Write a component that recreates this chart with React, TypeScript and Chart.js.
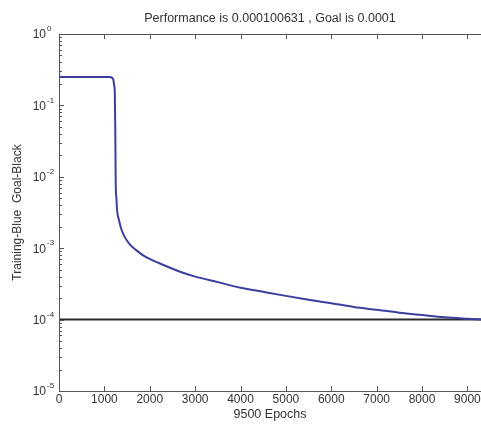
import React, { useEffect, useRef } from "react";
import { Chart, registerables } from "chart.js";

Chart.register(...registerables);

// Training performance
const epochs = [
  0, 5, 20, 500, 1000, 1100, 1150, 1180, 1200, 1215, 1230, 1240, 1245, 1250,
  1265, 1280, 1320, 1380, 1450, 1550, 1700, 1900, 2200, 2700, 3000, 3500,
  4000, 4500, 5000, 5500, 6000, 6500, 7000, 7500, 8000, 8500, 9000, 9300,
];
const performance = [
  0.4, 0.26, 0.25, 0.25, 0.25, 0.25, 0.248, 0.24, 0.225, 0.19, 0.15, 0.05,
  0.02, 0.008, 0.005, 0.0034, 0.0025, 0.0018, 0.00143, 0.00115, 0.00094,
  0.00076, 0.00062, 0.00046, 0.0004, 0.000335, 0.00028, 0.000245, 0.000215,
  0.00019, 0.00017, 0.00015, 0.000137, 0.000125, 0.000116, 0.000108,
  0.000103, 0.0001005,
];
const goalEpochs = [0, 9300];
const goalValues = [0.0001, 0.0001];

const xTickValues = [0, 1000, 2000, 3000, 4000, 5000, 6000, 7000, 8000, 9000];
const yDecadeExponents = [0, -1, -2, -3, -4, -5];

const titleText = "Performance is 0.000100631 , Goal is 0.0001";
const xTitleText = "9500 Epochs";
const yTitleText = "Training-Blue  Goal-Black";

const FONT = "'Liberation Sans', Arial, sans-serif";
const TEXT = "#333333";
const AXIS = "#555555";

const framePlugin = {
  id: "matlabFrame",
  afterDraw(chart: any) {
    const { ctx, chartArea, scales } = chart;
    const { left, top, right, bottom } = chartArea;
    const xs = scales.x;
    const ys = scales.y;
    ctx.save();
    ctx.strokeStyle = AXIS;
    ctx.lineWidth = 1;
    // box
    ctx.beginPath();
    ctx.moveTo(right + 2, top + 0.5);
    ctx.lineTo(left + 0.5, top + 0.5);
    ctx.lineTo(left + 0.5, bottom + 0.5);
    ctx.lineTo(right + 2, bottom + 0.5);
    ctx.stroke();
    // x ticks (inward, top and bottom)
    ctx.beginPath();
    for (const v of xTickValues) {
      const px = Math.round(xs.getPixelForValue(v)) + 0.5;
      ctx.moveTo(px, bottom);
      ctx.lineTo(px, bottom - 5);
      ctx.moveTo(px, top);
      ctx.lineTo(px, top + 5);
    }
    // y ticks (major + minor)
    for (const e of yDecadeExponents) {
      const py = Math.round(ys.getPixelForValue(Math.pow(10, e))) + 0.5;
      ctx.moveTo(left, py);
      ctx.lineTo(left + 5, py);
      if (e > -5) {
        for (let m = 2; m <= 9; m++) {
          const v = m * Math.pow(10, e - 1);
          const pm = Math.round(ys.getPixelForValue(v)) + 0.5;
          ctx.moveTo(left, pm);
          ctx.lineTo(left + 3, pm);
        }
      }
    }
    ctx.stroke();
    ctx.fillStyle = TEXT;
    // x tick labels
    ctx.font = `12px ${FONT}`;
    ctx.textAlign = "center";
    ctx.textBaseline = "top";
    for (const v of xTickValues) {
      ctx.fillText(String(v), xs.getPixelForValue(v), bottom + 3);
    }
    // y tick labels 10^e
    for (const e of yDecadeExponents) {
      const py = ys.getPixelForValue(Math.pow(10, e));
      ctx.font = `12px ${FONT}`;
      ctx.textAlign = "right";
      ctx.textBaseline = "middle";
      ctx.fillText("10", left - 13, py + 1);
      ctx.font = `8px ${FONT}`;
      ctx.textAlign = "left";
      ctx.fillText(String(e), left - 12, py - 5);
    }
    ctx.restore();
  },
};

export default function App() {
  const ref = useRef<HTMLCanvasElement | null>(null);

  useEffect(() => {
    if (!ref.current) return;
    const perfData = epochs.map((x, i) => ({ x, y: performance[i] }));
    const goalData = goalEpochs.map((x, i) => ({ x, y: goalValues[i] }));
    const chart = new Chart(ref.current, {
      type: "line",
      data: {
        datasets: [
          {
            label: "Training",
            data: perfData,
            borderColor: "#3b3f9e",
            borderWidth: 2,
            pointRadius: 0,
            cubicInterpolationMode: "monotone",
            fill: false,
          },
          {
            label: "Goal",
            data: goalData,
            borderColor: "#2a2a2a",
            borderWidth: 2,
            pointRadius: 0,
            fill: false,
          },
        ],
      },
      options: {
        responsive: false,
        animation: false,
        layout: { padding: 0 },
        plugins: {
          legend: { display: false },
          tooltip: { enabled: false },
          title: {
            display: true,
            text: titleText,
            fullSize: false,
            color: TEXT,
            font: { family: FONT, size: 12.5, weight: "normal" },
            padding: { top: 11, bottom: 8 },
          },
        },
        scales: {
          x: {
            type: "linear",
            min: 0,
            max: 9300,
            afterFit: (s: any) => {
              s.height = 38;
            },
            grid: { display: false, drawTicks: false },
            border: { display: false },
            ticks: { display: false },
            title: {
              display: true,
              text: xTitleText,
              color: TEXT,
              font: { family: FONT, size: 12.5 },
              padding: { top: 0, bottom: 7 },
            },
          },
          y: {
            type: "logarithmic",
            min: 0.00001,
            max: 1,
            afterFit: (s: any) => {
              s.width = 59;
            },
            grid: { display: false, drawTicks: false },
            border: { display: false },
            ticks: { display: false },
            title: {
              display: true,
              text: yTitleText,
              color: TEXT,
              font: { family: FONT, size: 12 },
              padding: { top: 10.5, bottom: 0 },
            },
          },
        },
      },
      plugins: [framePlugin],
    });
    return () => chart.destroy();
  }, []);

  return (
    <canvas
      ref={ref}
      width={481}
      height={429}
      style={{ position: "fixed", left: 0, top: 0, display: "block", background: "#fff" }}
    />
  );
}
